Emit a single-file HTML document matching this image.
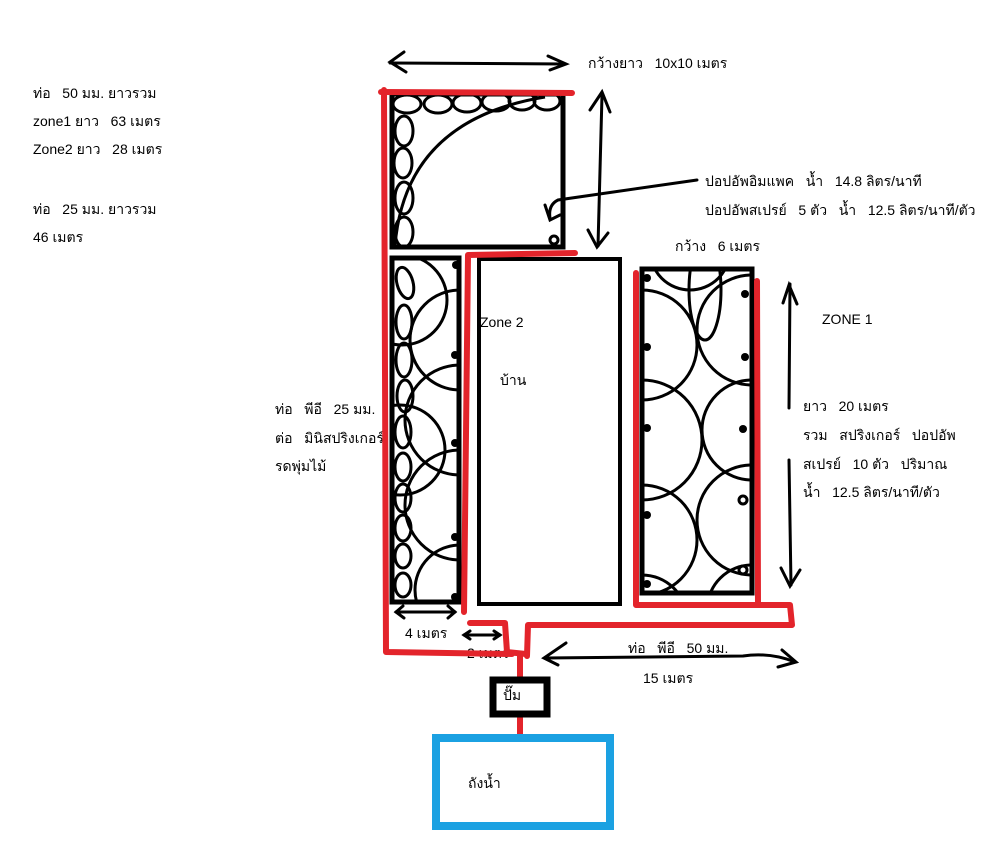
<!DOCTYPE html>
<html><head><meta charset="utf-8">
<style>
html,body{margin:0;padding:0;background:#fff;}
svg{display:block;}
text{font-family:"Liberation Sans","DejaVu Sans",sans-serif;font-size:14px;fill:#000;}
</style></head>
<body>
<svg width="1005" height="864" viewBox="0 0 1005 864" xmlns="http://www.w3.org/2000/svg">
<defs>
<clipPath id="c1"><rect x="392" y="94" width="171" height="153"/></clipPath>
<clipPath id="c2"><rect x="394" y="260" width="63" height="342"/></clipPath>
<clipPath id="c3"><rect x="642" y="271" width="108" height="320"/></clipPath>
</defs>

<text x="33" y="98">ท่อ&#160;&#160; 50 มม. ยาวรวม</text>
<text x="33" y="126">zone1 ยาว&#160;&#160; 63 เมตร</text>
<text x="33" y="154">Zone2 ยาว&#160;&#160; 28 เมตร</text>
<text x="33" y="214">ท่อ&#160;&#160; 25 มม. ยาวรวม</text>
<text x="33" y="242">46 เมตร</text>

<g fill="none" stroke="#000" stroke-width="3" stroke-linecap="round">
<path d="M390 63 L565 64"/>
<path d="M404 52 L390 62 L406 72"/>
<path d="M548 56 L566 64 L550 70"/>
<path d="M602 95 L598 246"/>
<path d="M590 110 L602 92 L610 112"/>
<path d="M588 230 L597 247 L608 233"/>
<path d="M697 180 L558 200 Q548 205 550 218"/>
<path d="M545 205 L550 220 L560 215"/>
<path d="M790 284 L789 408"/>
<path d="M783 303 L789 285 L797 304"/>
<path d="M789 460 L791 585"/>
<path d="M781 568 L790 586 L800 570"/>
<path d="M396 612 L455 612"/>
<path d="M403 606 L396 612 L404 618"/>
<path d="M448 606 L455 612 L448 618"/>
<path d="M464 635 L500 635"/>
<path d="M470 631 L464 635 L470 639"/>
<path d="M494 631 L500 635 L494 639"/>
<path d="M545 658 L743 656 Q770 652 795 662"/>
<path d="M566 643 L544 658 L558 665"/>
<path d="M782 650 L796 662 L778 667"/>
</g>

<text x="588" y="68">กว้างยาว&#160;&#160; 10x10 เมตร</text>
<text x="705" y="186">ปอปอัพอิมแพค&#160;&#160; น้ำ&#160;&#160; 14.8 ลิตร/นาที</text>
<text x="705" y="215">ปอปอัพสเปรย์&#160;&#160; 5 ตัว&#160;&#160; น้ำ&#160;&#160; 12.5 ลิตร/นาที/ตัว</text>
<text x="675" y="251">กว้าง&#160;&#160; 6 เมตร</text>
<text x="822" y="324">ZONE 1</text>
<text x="803" y="411">ยาว&#160;&#160; 20 เมตร</text>
<text x="803" y="440">รวม&#160;&#160; สปริงเกอร์&#160;&#160; ปอปอัพ</text>
<text x="803" y="469">สเปรย์&#160;&#160; 10 ตัว&#160;&#160; ปริมาณ</text>
<text x="803" y="497">น้ำ&#160;&#160; 12.5 ลิตร/นาที/ตัว</text>
<text x="275" y="414">ท่อ&#160;&#160; พีอี&#160;&#160; 25 มม.</text>
<text x="275" y="443">ต่อ&#160;&#160; มินิสปริงเกอร์</text>
<text x="275" y="471">รดพุ่มไม้</text>
<text x="480" y="327">Zone 2</text>
<text x="500" y="385">บ้าน</text>
<text x="405" y="638">4 เมตร</text>
<text x="467" y="658">2 เมตร</text>
<text x="628" y="653">ท่อ&#160;&#160; พีอี&#160;&#160; 50 มม.</text>
<text x="643" y="683">15 เมตร</text>
<text x="503" y="700">ปั๊ม</text>
<text x="468" y="788">ถังน้ำ</text>

<g clip-path="url(#c1)" fill="none" stroke="#000" stroke-width="3">
<ellipse cx="407" cy="104" rx="14" ry="9"/>
<ellipse cx="438" cy="104" rx="14" ry="9"/>
<ellipse cx="467" cy="103" rx="14" ry="9"/>
<ellipse cx="496" cy="102" rx="14" ry="9"/>
<ellipse cx="522" cy="101" rx="13" ry="9"/>
<ellipse cx="547" cy="101" rx="13" ry="9"/>
<ellipse cx="404" cy="131" rx="9" ry="15"/>
<ellipse cx="403" cy="163" rx="9" ry="15"/>
<ellipse cx="404" cy="198" rx="9" ry="16"/>
<ellipse cx="404" cy="232" rx="9" ry="15"/>
<path d="M395 246 Q405 120 545 97"/>
</g>
<circle cx="554" cy="240" r="4" fill="none" stroke="#000" stroke-width="3"/>
<rect x="392" y="94" width="171" height="153" fill="none" stroke="#000" stroke-width="5"/>

<g clip-path="url(#c2)" fill="none" stroke="#000" stroke-width="3">
<ellipse cx="405" cy="283" rx="8" ry="16" transform="rotate(-15 405 283)"/>
<ellipse cx="404" cy="322" rx="8" ry="17"/>
<ellipse cx="404" cy="360" rx="8" ry="17"/>
<ellipse cx="405" cy="396" rx="8" ry="16"/>
<ellipse cx="403" cy="432" rx="8" ry="16"/>
<ellipse cx="403" cy="467" rx="8" ry="14"/>
<ellipse cx="403" cy="498" rx="8" ry="14"/>
<ellipse cx="403" cy="528" rx="8" ry="13"/>
<ellipse cx="403" cy="556" rx="8" ry="12"/>
<ellipse cx="403" cy="585" rx="8" ry="12"/>
<circle cx="460" cy="340" r="50"/>
<circle cx="460" cy="420" r="55"/>
<circle cx="460" cy="505" r="55"/>
<circle cx="460" cy="590" r="45"/>
<circle cx="402" cy="300" r="45"/>
<circle cx="400" cy="450" r="45"/>
</g>
<g fill="#000"><circle cx="456" cy="265" r="4"/><circle cx="455" cy="355" r="4"/><circle cx="455" cy="443" r="4"/><circle cx="455" cy="537" r="4"/><circle cx="455" cy="597" r="4"/></g>
<rect x="392" y="258" width="67" height="344" fill="none" stroke="#000" stroke-width="5"/>

<rect x="479" y="259" width="141" height="345" fill="none" stroke="#000" stroke-width="4"/>

<g clip-path="url(#c3)" fill="none" stroke="#000" stroke-width="3">
<ellipse cx="705" cy="290" rx="16" ry="50"/>
<circle cx="642" cy="345" r="55"/>
<circle cx="642" cy="440" r="60"/>
<circle cx="642" cy="540" r="55"/>
<circle cx="752" cy="330" r="55"/>
<circle cx="752" cy="430" r="50"/>
<circle cx="752" cy="520" r="55"/>
<circle cx="752" cy="610" r="45"/>
<circle cx="642" cy="620" r="45"/>
<circle cx="690" cy="250" r="40"/>
</g>
<g fill="#000">
<circle cx="647" cy="278" r="4"/><circle cx="745" cy="294" r="4"/><circle cx="647" cy="347" r="4"/><circle cx="745" cy="357" r="4"/>
<circle cx="647" cy="428" r="4"/><circle cx="743" cy="429" r="4"/><circle cx="647" cy="515" r="4"/><circle cx="647" cy="584" r="4"/>
</g>
<circle cx="743" cy="500" r="4" fill="none" stroke="#000" stroke-width="3"/>
<circle cx="743" cy="570" r="4" fill="none" stroke="#000" stroke-width="3"/>
<rect x="642" y="269" width="110" height="324" fill="none" stroke="#000" stroke-width="5"/>

<g fill="none" stroke="#e3242b" stroke-width="6" stroke-linecap="round" stroke-linejoin="round">
<path d="M381 92 L572 93"/>
<path d="M384 90 L386 652 L512 654"/>
<path d="M575 253 L468 255 L464 612"/>
<path d="M470 623 L505 623 L507 652 L526 654"/>
<path d="M636 273 L636 605 L790 605 L792 625 L528 625 L527 656"/>
<path d="M757 281 L758 605"/>
<path d="M520 656 L520 678"/>
<path d="M520 718 L520 735"/>
</g>

<rect x="493" y="680" width="54" height="34" fill="none" stroke="#000" stroke-width="7"/>
<rect x="436" y="738" width="174" height="88" fill="none" stroke="#1ba1e2" stroke-width="8"/>
</svg>
</body></html>
